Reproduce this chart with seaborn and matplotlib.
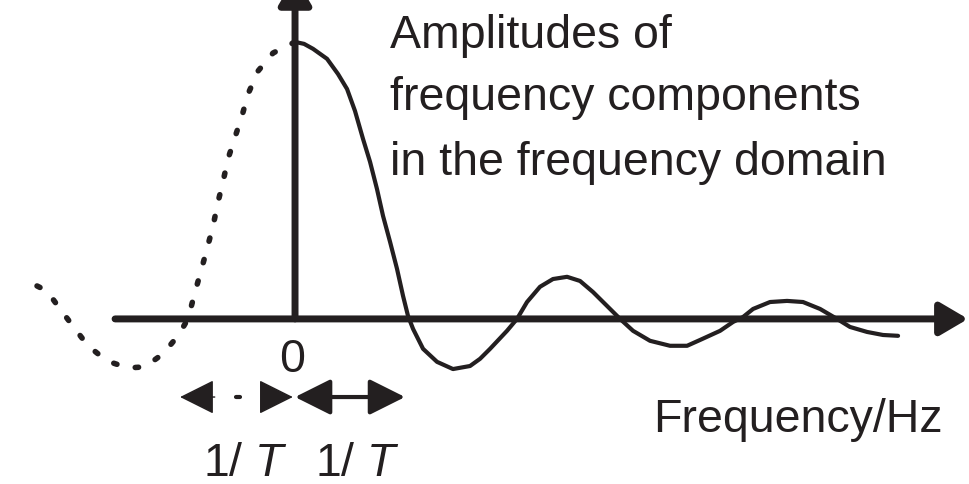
import matplotlib
matplotlib.use("Agg")
from matplotlib import pyplot as plt
import seaborn as sns
import pandas as pd

# frequency in multiples of 1/T, amplitude normalised to the main peak
solid_freq = [0.000, 0.082, 0.164, 0.291, 0.391, 0.473, 0.545, 0.618, 0.682, 0.745,
              0.800, 0.864, 0.927, 0.982, 1.027, 1.073, 1.164, 1.291, 1.436, 1.591,
              1.682, 1.773, 1.927, 2.018, 2.109, 2.227, 2.345, 2.473, 2.591, 2.709,
              2.836, 2.955, 3.073, 3.227, 3.409, 3.564, 3.682, 3.864, 3.982, 4.073,
              4.164, 4.318, 4.473, 4.618, 4.773, 4.927, 5.045, 5.200, 5.345, 5.482]
solid_amp = [1.000, 0.993, 0.975, 0.939, 0.884, 0.830, 0.751, 0.650, 0.567, 0.469,
             0.372, 0.278, 0.181, 0.083, 0.011, -0.036, -0.108, -0.155, -0.181, -0.170,
             -0.144, -0.108, -0.043, 0.000, 0.061, 0.116, 0.144, 0.152, 0.137, 0.097,
             0.047, 0.000, -0.043, -0.079, -0.097, -0.097, -0.076, -0.043, -0.011, 0.007,
             0.036, 0.061, 0.065, 0.061, 0.036, 0.000, -0.029, -0.047, -0.058, -0.061]

# mirrored (negative frequency) part, drawn dotted
dotted_freq = [0.000, -0.200, -0.336, -0.427, -0.482, -0.545, -0.609, -0.655, -0.700,
               -0.745, -0.800, -0.855, -0.909, -0.973, -1.064, -1.200, -1.364, -1.518,
               -1.709, -1.882, -2.000, -2.136, -2.255, -2.436]
dotted_amp = [1.000, 0.960, 0.895, 0.812, 0.733, 0.657, 0.578, 0.495, 0.422,
              0.336, 0.253, 0.173, 0.097, 0.000, -0.061, -0.126, -0.173, -0.177,
              -0.152, -0.097, -0.036, 0.036, 0.101, 0.137]

period = 1.0  # width marked "1/ T"
title_lines = ["Amplitudes of", "frequency components", "in the frequency domain"]
x_label = "Frequency/Hz"
period_label = "1/ $T$"

INK = "#231f20"

sns.set_style("white")
plt.rcParams["font.family"] = ["Liberation Sans", "DejaVu Sans"]
plt.rcParams["mathtext.fontset"] = "custom"
plt.rcParams["mathtext.rm"] = "Liberation Sans"
plt.rcParams["mathtext.it"] = "Liberation Sans:italic"

fig = plt.figure(figsize=(9.7, 4.85), dpi=100)
ax = fig.add_axes([0, 0, 1, 1])
ax.set_xlim(-2.682, 6.136)
ax.set_ylim(-0.596, 1.155)
ax.axis("off")

df_solid = pd.DataFrame({"freq": solid_freq, "amp": solid_amp})
df_dot = pd.DataFrame({"freq": dotted_freq, "amp": dotted_amp})

sns.lineplot(data=df_solid, x="freq", y="amp", ax=ax, color=INK, lw=3.0,
             estimator=None, sort=False, solid_capstyle="round", solid_joinstyle="round")
sns.lineplot(data=df_dot, x="freq", y="amp", ax=ax, color=INK, lw=4.0,
             estimator=None, sort=False, linestyle=(0, (0.6, 3.4)),
             dash_capstyle="round")

# axes with arrow heads
axis_style = "-|>,head_length=0.85,head_width=0.5"
ax.annotate("", xy=(6.118, 0), xytext=(-1.636, 0), annotation_clip=False,
            arrowprops=dict(arrowstyle=axis_style, color=INK, lw=5,
                            mutation_scale=20, shrinkA=0, shrinkB=0))
ax.annotate("", xy=(0, 1.235), xytext=(0, 0), annotation_clip=False,
            arrowprops=dict(arrowstyle=axis_style, color=INK, lw=5,
                            mutation_scale=20, shrinkA=0, shrinkB=0))

# period markers under the axis
ybar = -0.282
head = "-|>,head_length=1.1,head_width=0.55"
ax.annotate("", xy=(period, ybar), xytext=(0, ybar),
            arrowprops=dict(arrowstyle="<|-|>,head_length=1.1,head_width=0.55",
                            color=INK, lw=3, mutation_scale=20, shrinkA=0, shrinkB=0))
ax.annotate("", xy=(-period * 1.045, ybar), xytext=(-period * 0.73, ybar),
            arrowprops=dict(arrowstyle=head, color=INK, lw=1,
                            mutation_scale=20, shrinkA=0, shrinkB=0))
ax.annotate("", xy=(-0.02, ybar), xytext=(-0.29, ybar),
            arrowprops=dict(arrowstyle=head, color=INK, lw=1,
                            mutation_scale=20, shrinkA=0, shrinkB=0))
ax.plot([-period * 0.54, -period * 0.5], [ybar, ybar], color=INK, lw=3)

fs = 33.5
for line, yb in zip(title_lines, [0.982, 0.758, 0.523]):
    ax.text(0.864, yb, line, fontsize=fs, color=INK, ha="left", va="baseline")
ax.text(5.891, -0.404, x_label, fontsize=fs, color=INK, ha="right", va="baseline")
ax.text(-0.027, -0.188, "0", fontsize=fs, color=INK, ha="center", va="baseline")
ax.text(-0.455, -0.562, period_label, fontsize=fs, color=INK, ha="center", va="baseline")
ax.text(0.564, -0.562, period_label, fontsize=fs, color=INK, ha="center", va="baseline")

fig.savefig("out.png", dpi=100)
